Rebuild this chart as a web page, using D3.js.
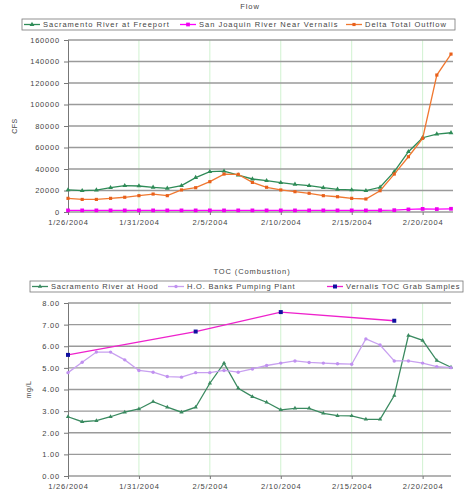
<!DOCTYPE html>
<html>
<head>
<meta charset="utf-8">
<script src="https://cdn.jsdelivr.net/npm/d3@7"></script>
<style>
body { margin: 0; background: #fff; }
text { font-family: "Liberation Sans", Arial, sans-serif; fill: #444; }
</style>
</head>
<body>
<svg id="chart" width="466" height="497"></svg>
<script>
var Dates = ["1/26/2004","1/27/2004","1/28/2004","1/29/2004","1/30/2004","1/31/2004","2/1/2004","2/2/2004",
	"2/3/2004","2/4/2004","2/5/2004","2/6/2004","2/7/2004","2/8/2004","2/9/2004","2/10/2004","2/11/2004",
	"2/12/2004","2/13/2004","2/14/2004","2/15/2004","2/16/2004","2/17/2004","2/18/2004","2/19/2004",
	"2/20/2004","2/21/2004","2/22/2004"];

var TickDates = ["1/26/2004","1/31/2004","2/5/2004","2/10/2004","2/15/2004","2/20/2004"];

// Flow (CFS)
var SacFreeport = [20500,19800,20400,22600,24500,24200,23000,22000,24500,32000,37500,38000,34400,30700,
	29100,27300,25700,24500,22600,21100,20500,19800,23000,37500,56100,69100,72500,73700];
var SanJoaquin = [1500,1500,1500,1500,1500,1500,1500,1500,1500,1500,1500,1500,1500,1500,
	1500,1500,1500,1500,1500,1500,1500,1500,1600,1700,2400,2900,2700,3000];
var DeltaOutflow = [12700,11700,11700,12700,13700,15200,16700,15200,20500,22600,28200,35300,35000,27500,
	23000,20500,18900,17400,15200,14200,12700,12100,19800,35300,51400,68500,127400,146900];
var FlowTicks = [0,20000,40000,60000,80000,100000,120000,140000,160000];

// TOC (mg/L)
var SacHood = [2.74,2.51,2.56,2.74,2.95,3.10,3.44,3.18,2.95,3.18,4.29,5.22,4.06,3.67,
	3.41,3.06,3.13,3.13,2.90,2.79,2.78,2.62,2.62,3.72,6.50,6.27,5.34,5.03];
var BanksPP = [4.78,5.26,5.73,5.73,5.37,4.88,4.80,4.60,4.57,4.78,4.78,4.88,4.80,4.95,
	5.11,5.22,5.32,5.25,5.22,5.19,5.17,6.34,6.06,5.32,5.32,5.22,5.06,5.01];
var VernalisDates = ["1/26/2004","2/4/2004","2/10/2004","2/18/2004"];
var VernalisToc = [5.60,6.68,7.58,7.18];
var TocTicks = [0,1,2,3,4,5,6,7,8];

var parseDate = d3.timeParse("%m/%d/%Y");
var fmtDate = d3.timeFormat("%-m/%-d/%Y");

var svg = d3.select("#chart");
svg.append("rect").attr("width",466).attr("height",497).attr("fill","#fff");

var X = d3.scaleTime()
	.domain([parseDate(Dates[0]), parseDate(Dates[Dates.length-1])])
	.range([68, 451]);

function DrawPanel(opt)
{
	var g = svg.append("g");
	var Y = d3.scaleLinear().domain(opt.domain).range([opt.bottom, opt.top]);

	g.append("text").attr("x", opt.titleX).attr("y", opt.titleY)
		.attr("text-anchor","middle").style("font-size","7.5px").style("letter-spacing","0.9px")
		.text(opt.title);

	// vertical green gridlines
	g.selectAll(".vg").data(TickDates.slice(1)).enter().append("line")
		.attr("x1", function(d){ return X(parseDate(d)); })
		.attr("x2", function(d){ return X(parseDate(d)); })
		.attr("y1", opt.top).attr("y2", opt.bottom)
		.attr("stroke","#d0f2d0").attr("stroke-width",1);

	// horizontal gridlines
	g.selectAll(".hg").data(opt.ticks).enter().append("line")
		.attr("x1", 68).attr("x2", opt.right)
		.attr("y1", function(d){ return Y(d); }).attr("y2", function(d){ return Y(d); })
		.attr("stroke","#9a9a9a").attr("stroke-width",1.4);

	var yAxis = g.append("g").attr("transform","translate(68,0)")
		.call(d3.axisLeft(Y).tickValues(opt.ticks).tickSize(4).tickPadding(4).tickFormat(opt.fmt));
	yAxis.select(".domain").attr("stroke","#777");
	yAxis.selectAll(".tick line").attr("stroke","#777");
	yAxis.selectAll("text").style("font-size","7.5px").style("letter-spacing","0.8px")
		.style("font-family","Liberation Sans, Arial").attr("fill","#444");

	var xAxis = g.append("g").attr("transform","translate(0," + opt.bottom + ")")
		.call(d3.axisBottom(X).tickValues(TickDates.map(parseDate)).tickSize(3).tickPadding(5).tickFormat(fmtDate));
	xAxis.select(".domain").remove();
	xAxis.selectAll(".tick line").attr("stroke","#777");
	xAxis.selectAll("text").style("font-size","7.5px").style("letter-spacing","0.8px")
		.style("font-family","Liberation Sans, Arial").attr("fill","#444");

	g.append("text")
		.attr("transform","translate(" + opt.yLabelX + "," + ((opt.top + opt.bottom)/2) + ") rotate(-90)")
		.attr("text-anchor","middle").style("font-size","7px").style("letter-spacing","0.5px")
		.text(opt.yLabel);

	opt.series.forEach(function(s)
	{
		var pts = s.dates.map(function(d, i){ return [X(parseDate(d)), Y(s.values[i])]; });
		g.append("path").attr("d", d3.line()(pts))
			.attr("fill","none").attr("stroke", s.color).attr("stroke-width", 1.3);
		g.selectAll(null).data(pts).enter().append("path")
			.attr("transform", function(p){ return "translate(" + p[0] + "," + p[1] + ")"; })
			.attr("d", d3.symbol().type(s.symbol).size(s.size))
			.attr("fill", s.marker);
	});

	// legend
	var lg = g.append("g");
	lg.append("rect").attr("x", opt.legend.x).attr("y", opt.legend.y)
		.attr("width", opt.legend.w).attr("height", 11)
		.attr("fill","#fff").attr("stroke","#777").attr("stroke-width",0.8);
	opt.series.forEach(function(s, i)
	{
		var lx = opt.legend.items[i];
		var ly = opt.legend.y + 5.5;
		lg.append("line").attr("x1", lx).attr("x2", lx + 16).attr("y1", ly).attr("y2", ly)
			.attr("stroke", s.color).attr("stroke-width", 1.3);
		lg.append("path").attr("transform","translate(" + (lx + 8) + "," + ly + ")")
			.attr("d", d3.symbol().type(s.symbol).size(s.size)).attr("fill", s.marker);
		lg.append("text").attr("x", lx + 19).attr("y", ly + 2.7)
			.style("font-size","7.5px").style("letter-spacing", opt.legend.ls).text(s.name);
	});
}

DrawPanel({
	title: "Flow", titleX: 250, titleY: 9,
	domain: [0, 160000], ticks: FlowTicks, fmt: d3.format("d"),
	top: 40, bottom: 212, right: 453, yLabel: "CFS", yLabelX: 17,
	legend: { x: 22, y: 19, w: 433, items: [24, 180, 346], ls: "1px" },
	series: [
		{ name: "Sacramento River at Freeport", dates: Dates, values: SacFreeport, color: "#2e8b57", marker: "#2e8b57", symbol: d3.symbolTriangle, size: 10 },
		{ name: "San Joaquin River Near Vernalis", dates: Dates, values: SanJoaquin, color: "#ff00ff", marker: "#ee00ee", symbol: d3.symbolSquare, size: 14 },
		{ name: "Delta Total Outflow", dates: Dates, values: DeltaOutflow, color: "#f07830", marker: "#e8601c", symbol: d3.symbolSquare, size: 10 }
	]
});

DrawPanel({
	title: "TOC (Combustion)", titleX: 252, titleY: 274,
	domain: [0, 8], ticks: TocTicks, fmt: d3.format(".2f"),
	top: 303, bottom: 476, right: 451, yLabel: "mg/L", yLabelX: 31,
	legend: { x: 30, y: 281, w: 433, items: [32, 168, 327], ls: "0.8px" },
	series: [
		{ name: "Sacramento River at Hood", dates: Dates, values: SacHood, color: "#3a8a60", marker: "#3a8a60", symbol: d3.symbolTriangle, size: 8 },
		{ name: "H.O. Banks Pumping Plant", dates: Dates, values: BanksPP, color: "#c8a0f0", marker: "#c090f0", symbol: d3.symbolCircle, size: 9 },
		{ name: "Vernalis TOC Grab Samples", dates: VernalisDates, values: VernalisToc, color: "#ee22cc", marker: "#1010a0", symbol: d3.symbolSquare, size: 16 }
	]
});
</script>
</body>
</html>
